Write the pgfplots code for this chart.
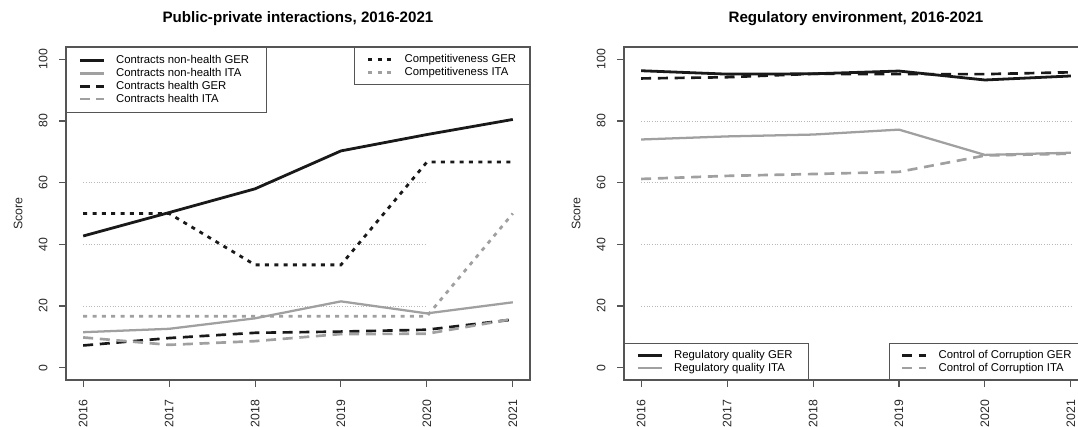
\documentclass[border=0pt]{standalone}
\usepackage{pgfplots}
\pgfplotsset{compat=1.18}
\usepackage{fontspec}
\setmainfont{Liberation Sans}
\definecolor{lgray}{RGB}{160,160,160}
\definecolor{framec}{RGB}{85,85,85}
\definecolor{gridc}{RGB}{185,185,185}
\definecolor{blk}{RGB}{25,25,25}

\pgfplotsset{
 base/.style={
  scale only axis, width=348pt, height=249.75pt,
  xmin=2015.8, xmax=2021.2, ymin=-4, ymax=104,
  axis line style={framec, line width=0.8pt},
  xtick={2016,2017,2018,2019,2020,2021}, ytick={0,20,40,60,80,100},
  tick align=outside, tick pos=left, major tick length=5pt,
  every tick/.style={framec, line width=0.8pt},
  /pgf/number format/assume math mode=true,
  /pgf/number format/1000 sep={},
  tick label style={font=\fontsize{9.2}{11}\selectfont, color=black!85},
  xticklabel style={rotate=90, anchor=east, inner sep=0pt},
  yticklabel style={rotate=90, anchor=south, inner sep=0pt},
  xticklabel shift=9.6pt, yticklabel shift=8.6pt,
  ylabel={Score},
  ylabel style={font=\fontsize{9.3}{11}\selectfont, color=black!85, at={(axis description cs:-0.1034,0.5)}, anchor=center, rotate=0},
  legend cell align=left,
  legend image code/.code={\draw[##1] (0pt,0pt) -- (18pt,0pt);},
  legend style={draw=framec, line width=0.6pt, fill=white, inner xsep=9pt,
    font=\fontsize{8.5}{10}\selectfont,
    nodes={inner xsep=0pt, inner ysep=0.3pt, text height=6.9pt, text depth=2.1pt},
    column sep=8.25pt},
  title style={font=\bfseries\fontsize{11.35}{13}\selectfont, at={(0.5,1)}, anchor=center, yshift=15.3pt},
 },
 gridl/.style={gridc, line width=0.5pt, dash pattern=on 0.7pt off 1.3pt, forget plot},
 sblack/.style={blk, line width=2.1pt, line join=round},
 sgray/.style={lgray, line width=1.7pt, line join=round},
 dblack/.style={blk, line width=2pt, dash pattern=on 7.5pt off 5pt},
 dgray/.style={lgray, line width=2pt, dash pattern=on 7.5pt off 5pt},
 oblack/.style={blk, line width=2.1pt, dash pattern=on 3pt off 4pt},
 ogray/.style={lgray, line width=2.1pt, dash pattern=on 3pt off 4pt},
}

\begin{document}
\begin{tikzpicture}
% ---------------- Left panel ----------------
\begin{axis}[base, at={(49.5pt,35.25pt)}, anchor=south west,
  title={Public-private interactions, 2016-2021},
  legend style={at={(axis description cs:0,1)}, anchor=north west, inner ysep=5.2pt}]
\addplot[gridl] coordinates {(2016,20) (2020,20)};
\addplot[gridl] coordinates {(2016,40) (2020,40)};
\addplot[gridl] coordinates {(2016,60) (2020,60)};
\addplot[sblack] coordinates {(2016,42.7) (2017,50.3) (2018,58.0) (2019,70.3) (2020,75.6) (2021,80.5)};
\addlegendentry{\makebox[103.5pt][l]{Contracts non-health GER}}
\addplot[sgray] coordinates {(2016,11.5) (2017,12.6) (2018,16.0) (2019,21.5) (2020,17.6) (2021,21.2)};
\addlegendentry{\makebox[103.5pt][l]{Contracts non-health ITA}}
\addplot[dblack] coordinates {(2016,7.2) (2017,9.6) (2018,11.3) (2019,11.7) (2020,12.3) (2021,15.6)};
\addlegendentry{\makebox[103.5pt][l]{Contracts health GER}}
\addplot[dgray] coordinates {(2016,9.8) (2017,7.4) (2018,8.6) (2019,10.9) (2020,11.0) (2021,15.8)};
\addlegendentry{\makebox[103.5pt][l]{Contracts health ITA}}
\end{axis}
\begin{axis}[base, hide axis, at={(49.5pt,35.25pt)}, anchor=south west,
  legend style={at={(axis description cs:1,1)}, anchor=north east, inner ysep=4.4pt}]
\addplot[oblack] coordinates {(2016,50) (2017,50) (2018,33.33) (2019,33.33) (2020,66.67) (2021,66.67)};
\addlegendentry{\makebox[84.75pt][l]{Competitiveness GER}}
\addplot[ogray] coordinates {(2016,16.67) (2017,16.67) (2018,16.67) (2019,16.67) (2020,16.67) (2021,50)};
\addlegendentry{\makebox[84.75pt][l]{Competitiveness ITA}}
\end{axis}
% ---------------- Right panel ----------------
\begin{axis}[base, at={(468pt,35.25pt)}, anchor=south west,
  title={Regulatory environment, 2016-2021},
  legend style={at={(axis description cs:0,0)}, anchor=south west, inner ysep=3.8pt}]
\addplot[gridl] coordinates {(2016,20) (2021,20)};
\addplot[gridl] coordinates {(2016,40) (2021,40)};
\addplot[gridl] coordinates {(2016,60) (2021,60)};
\addplot[gridl] coordinates {(2016,80) (2021,80)};
\addplot[sblack] coordinates {(2016,96.3) (2017,95.2) (2018,95.3) (2019,96.2) (2020,93.3) (2021,94.6)};
\addlegendentry{\makebox[91.5pt][l]{Regulatory quality GER}}
\addplot[sgray] coordinates {(2016,74.0) (2017,75.0) (2018,75.6) (2019,77.2) (2020,69.0) (2021,69.7)};
\addlegendentry{\makebox[91.5pt][l]{Regulatory quality ITA}}
\end{axis}
\begin{axis}[base, hide axis, at={(468pt,35.25pt)}, anchor=south west,
  legend style={at={(axis description cs:1,0)}, anchor=south east, inner ysep=3.8pt}]
\addplot[dblack] coordinates {(2016,93.8) (2017,94.2) (2018,95.3) (2019,95.2) (2020,95.2) (2021,95.8)};
\addlegendentry{\makebox[102.75pt][l]{Control of Corruption GER}}
\addplot[dgray] coordinates {(2016,61.2) (2017,62.2) (2018,62.8) (2019,63.5) (2020,68.8) (2021,69.4)};
\addlegendentry{\makebox[102.75pt][l]{Control of Corruption ITA}}
\end{axis}
\pgfresetboundingbox
\useasboundingbox (0pt,0pt) rectangle (808.5pt,320.25pt);
\end{tikzpicture}
\end{document}
